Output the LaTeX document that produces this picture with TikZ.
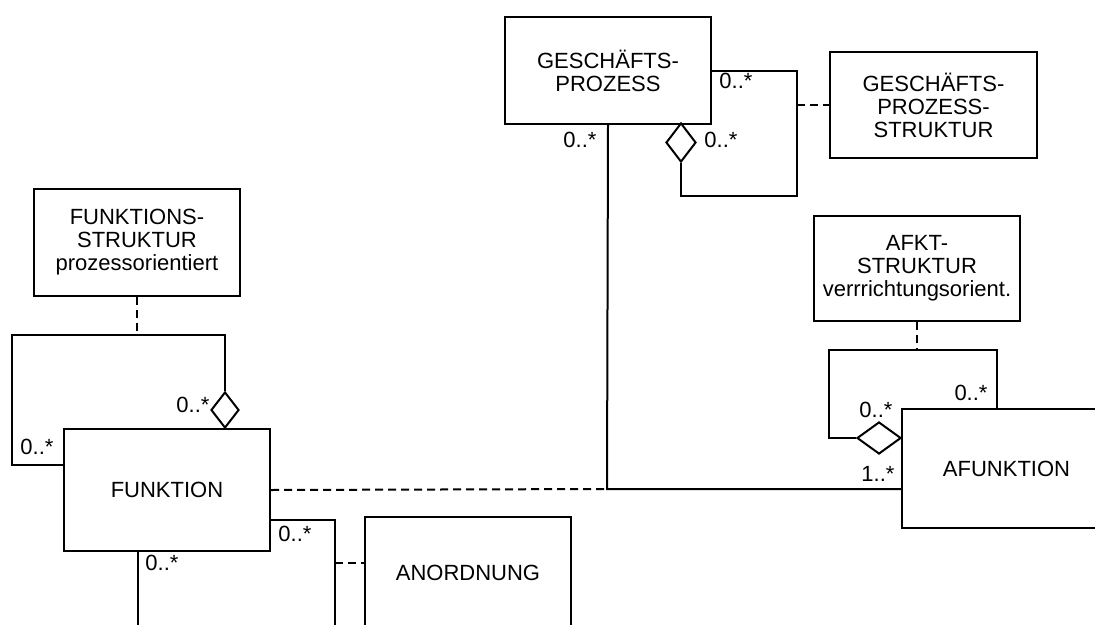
\documentclass[tikz,border=0pt]{standalone}
\usepackage{fontspec}
\setmainfont{Liberation Sans}
\usetikzlibrary{shapes.geometric}
\tikzset{
  box/.style={draw, line width=2pt, rectangle, inner sep=0pt, align=center, font=\fontsize{22}{23}\selectfont, anchor=north west},
  lbl/.style={inner sep=0pt, font=\fontsize{22}{23}\selectfont},
  ln/.style={line width=2pt},
  dsh/.style={line width=2pt, dash pattern=on 8pt off 5pt},
  dia/.style={draw, diamond, line width=2pt, inner sep=0pt, fill=white},
}
\begin{document}
\begin{tikzpicture}[x=1pt,y=-1pt]
\useasboundingbox (0,0) rectangle (1095,624);
\clip (0,0) rectangle (1095,624);

% boxes
\node[box, minimum width=206pt, minimum height=107pt] (gp) at (504,16) {GESCHÄFTS-\\PROZESS};
\node[box, minimum width=207pt, minimum height=106pt] (gps) at (829,51) {GESCHÄFTS-\\PROZESS-\\STRUKTUR};
\node[box, minimum width=206pt, minimum height=107pt] (fs) at (33,188) {FUNKTIONS-\\STRUKTUR\\prozessorientiert};
\node[box, minimum width=206pt, minimum height=105pt] (as) at (813,215) {AFKT-\\STRUKTUR\\verrrichtungsorient.};
\node[box, minimum width=206pt, minimum height=122pt] (fk) at (63,428) {FUNKTION};
\node[box, minimum width=209pt, minimum height=119pt] (afk) at (901,408) {AFUNKTION};
\node[box, minimum width=206pt, minimum height=112pt] (an) at (364,516) {ANORDNUNG};

% diamonds
\node[dia, minimum width=30pt, minimum height=39pt] (gpd) at (681,142.5) {};
\node[dia, minimum width=28pt, minimum height=36pt] (fsd) at (225,410) {};
\node[dia, minimum width=44pt, minimum height=32pt] (asd) at (879,438) {};

% helper coordinates
\coordinate (c2) at (797,196);
\coordinate (j) at (607,489);
\coordinate (c5) at (12,335);
\coordinate (c6) at (12,465);
\coordinate (c7) at (829,350);
\coordinate (c8) at (997,408);
\coordinate (c9) at (335,520);
\coordinate (c10) at (335,630);
\coordinate (c11) at (335,563);
\coordinate (c12) at (138,630);

% GESCHAEFTSPROZESS self-loop and link to its structure
\draw[ln] (gp.east) -| (c2) -| (gpd.south);
\draw[dsh] (gps.west -| c2) -- (gps.west);

% GESCHAEFTSPROZESS -- AFUNKTION, FUNKTION dashed to the junction
\draw[ln] (gp.south) -- (j) -- (j -| afk.west);
\draw[dsh] (fk.east) -- (j);

% FUNKTIONSSTRUKTUR loop
\draw[dsh] (fs.south) -- (fs.south |- c5);
\draw[ln] (fsd.north) |- (c5) -- (c6) -- (c6 -| fk.west);

% AFKT-STRUKTUR loop
\draw[dsh] (as.south) -- (as.south |- c7);
\draw[ln] (c8) |- (c7) |- (asd.west);

% FUNKTION lower connectors
\draw[ln] (fk.east |- c9) -- (c9) -- (c10);
\draw[dsh] (c11) -- (c11 -| an.west);
\draw[ln] (fk.south -| c12) -- (c12);

% multiplicities
\node[lbl] (l1) at (736,80.5) {0..*};
\node[lbl] (l2) at (580,139.5) {0..*};
\node[lbl] (l3) at (721,139.5) {0..*};
\node[lbl] (l4) at (971,393) {0..*};
\node[lbl] (l5) at (876,410) {0..*};
\node[lbl] (l6) at (878,474) {1..*};
\node[lbl] (l7) at (193,405) {0..*};
\node[lbl] (l8) at (37,447) {0..*};
\node[lbl] (l9) at (295,534) {0..*};
\node[lbl] (l10) at (162,563) {0..*};
\end{tikzpicture}
\end{document}
